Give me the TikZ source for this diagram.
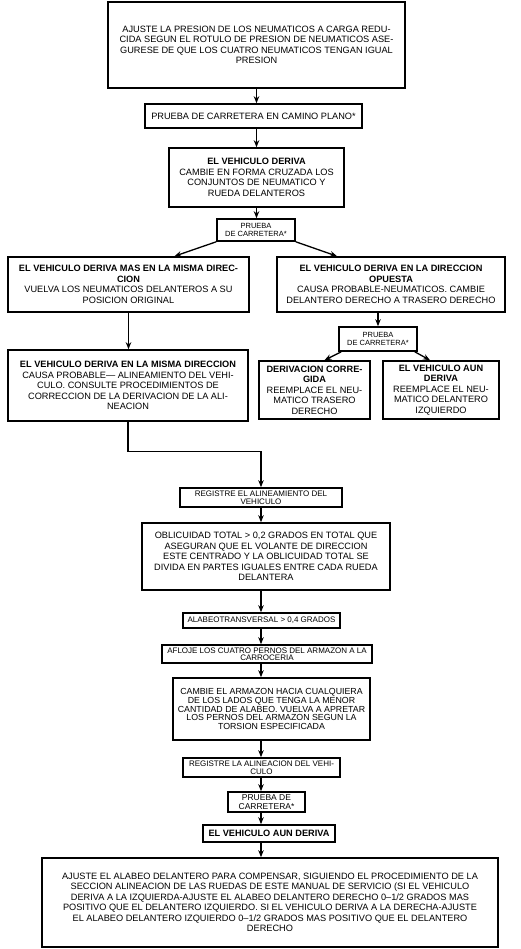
\documentclass[tikz,border=0pt]{standalone}
\usepackage{fontspec}
\setmainfont{Liberation Sans}
\usetikzlibrary{arrows.meta,calc}
\begin{document}
\begin{tikzpicture}[x=1pt,y=-1pt,
  box/.style={draw,line width=1.6pt,inner sep=0pt,align=center,font=\fontsize{9.2}{10.5}\selectfont},
  smallbox/.style={box,font=\fontsize{7.5}{8}\selectfont},
  tinybox/.style={box,font=\fontsize{8}{7.5}\selectfont},
  arr/.style={line width=1.3pt,-{Stealth[length=7pt,width=5.5pt]}}]
\useasboundingbox (0,0) rectangle (520,949);

\node[box,minimum width=297pt,minimum height=86pt] (top) at (256.5,45)
 {AJUSTE LA PRESION DE LOS NEUMATICOS A CARGA REDU-\\CIDA SEGUN EL ROTULO DE PRESION DE NEUMATICOS ASE-\\GURESE DE QUE LOS CUATRO NEUMATICOS TENGAN IGUAL\\PRESION};
\node[box,minimum width=217pt,minimum height=24pt] (plano) at (253.5,116)
 {PRUEBA DE CARRETERA EN CAMINO PLANO*};
\node[box,minimum width=175pt,minimum height=59pt] (deriva) at (256.5,177.5)
 {\textbf{EL VEHICULO DERIVA}\\CAMBIE EN FORMA CRUZADA LOS\\CONJUNTOS DE NEUMATICO Y\\RUEDA DELANTEROS};
\node[smallbox,minimum width=78pt,minimum height=22pt] (prueba1) at (256,230)
 {PRUEBA\\DE CARRETERA*};
\node[box,minimum width=241pt,minimum height=55pt] (mas) at (128.5,284.5)
 {\textbf{EL VEHICULO DERIVA MAS EN LA MISMA DIREC-}\\\textbf{CION}\\VUELVA LOS NEUMATICOS DELANTEROS A SU\\POSICION ORIGINAL};
\node[box,minimum width=228pt,minimum height=55pt] (opuesta) at (391,284.5)
 {\textbf{EL VEHICULO DERIVA EN LA DIRECCION}\\\textbf{OPUESTA}\\CAUSA PROBABLE-NEUMATICOS. CAMBIE\\DELANTERO DERECHO A TRASERO DERECHO};
\node[smallbox,minimum width=78pt,minimum height=24pt] (prueba2) at (378,339)
 {PRUEBA\\DE CARRETERA*};
\node[box,minimum width=111pt,minimum height=58pt] (corregida) at (314.5,390)
 {\textbf{DERIVACION CORRE-}\\\textbf{GIDA}\\REEMPLACE EL NEU-\\MATICO TRASERO\\DERECHO};
\node[box,minimum width=116pt,minimum height=58pt] (aun1) at (441,390)
 {\textbf{EL VEHICULO AUN}\\\textbf{DERIVA}\\REEMPLACE EL NEU-\\MATICO DELANTERO\\IZQUIERDO};
\node[box,minimum width=240pt,minimum height=71pt] (misma) at (128,385.5)
 {\textbf{EL VEHICULO DERIVA EN LA MISMA DIRECCION}\\CAUSA PROBABLE--- ALINEAMIENTO DEL VEHI-\\CULO. CONSULTE PROCEDIMIENTOS DE\\CORRECCION DE LA DERIVACION DE LA ALI-\\NEACION};
\node[tinybox,minimum width=162pt,minimum height=19pt] (registre1) at (261,497.5)
 {REGISTRE EL ALINEAMIENTO DEL\\VEHICULO};
\node[box,minimum width=248pt,minimum height=67pt] (oblic) at (266,556.5)
 {OBLICUIDAD TOTAL > 0,2 GRADOS EN TOTAL QUE\\ASEGURAN QUE EL VOLANTE DE DIRECCION\\ESTE CENTRADO Y LA OBLICUIDAD TOTAL SE\\DIVIDA EN PARTES IGUALES ENTRE CADA RUEDA\\DELANTERA};
\node[tinybox,minimum width=157pt,minimum height=15pt] (alabeo) at (261.5,620.5)
 {ALABEOTRANSVERSAL > 0,4 GRADOS};
\node[tinybox,minimum width=210pt,minimum height=18pt] (afloje) at (267,654)
 {AFLOJE LOS CUATRO PERNOS DEL ARMAZON A LA\\CARROCERIA};
\node[box,font=\fontsize{8.8}{8.8}\selectfont,minimum width=197pt,minimum height=62pt] (cambie) at (271.5,709)
 {CAMBIE EL ARMAZON HACIA CUALQUIERA\\DE LOS LADOS QUE TENGA LA MENOR\\CANTIDAD DE ALABEO. VUELVA A APRETAR\\LOS PERNOS DEL ARMAZON SEGUN LA\\TORSION ESPECIFICADA};
\node[tinybox,minimum width=157pt,minimum height=19pt] (registre2) at (261.5,767.5)
 {REGISTRE LA ALINEACION DEL VEHI-\\CULO};
\node[box,font=\fontsize{8.5}{8.5}\selectfont,minimum width=77pt,minimum height=20pt] (prueba3) at (266.5,802)
 {PRUEBA DE\\CARRETERA*};
\node[box,minimum width=132pt,minimum height=17pt] (aun2) at (269,833.5)
 {\textbf{EL VEHICULO AUN DERIVA}};
\node[box,minimum width=456pt,minimum height=89pt] (final) at (270,902.5)
 {AJUSTE EL ALABEO DELANTERO PARA COMPENSAR, SIGUIENDO EL PROCEDIMIENTO DE LA\\SECCION ALINEACION DE LAS RUEDAS DE ESTE MANUAL DE SERVICIO (SI EL VEHICULO\\DERIVA A LA IZQUIERDA-AJUSTE EL ALABEO DELANTERO DERECHO 0--1/2 GRADOS MAS\\POSITIVO QUE EL DELANTERO IZQUIERDO. SI EL VEHICULO DERIVA A LA DERECHA-AJUSTE\\EL ALABEO DELANTERO IZQUIERDO 0--1/2 GRADOS MAS POSITIVO QUE EL DELANTERO\\DERECHO};

\coordinate (col) at (261,0);
\draw[arr] (top.south) -- (top.south |- plano.north);
\draw[arr] (top.south |- plano.south) -- (top.south |- deriva.north);
\draw[arr] (deriva.south) -- (deriva.south |- prueba1.north);
\draw[arr] (prueba1.south west) -- ([xshift=46pt]mas.north);
\draw[arr] (prueba1.south east) -- ([xshift=-54pt]opuesta.north);
\draw[arr] (mas.south) -- (mas.south |- misma.north);
\draw[arr] (opuesta.south -| prueba2.north) -- (prueba2.north);
\draw[arr] ([xshift=3pt]prueba2.south west) -- ([xshift=10pt]corregida.north);
\draw[arr] ([xshift=-3pt]prueba2.south east) -- ([xshift=-11pt]aun1.north);
\draw[arr] (misma.south) -- ++(0,30) -| (registre1.north);
\draw[arr] (col |- registre1.south) -- (col |- oblic.north);
\draw[arr] (col |- oblic.south) -- (col |- alabeo.north);
\draw[arr] (col |- alabeo.south) -- (col |- afloje.north);
\draw[arr] (col |- afloje.south) -- (col |- cambie.north);
\draw[arr] (col |- cambie.south) -- (col |- registre2.north);
\draw[arr] (col |- registre2.south) -- (col |- prueba3.north);
\draw[arr] (col |- prueba3.south) -- (col |- aun2.north);
\draw[arr] (col |- aun2.south) -- (col |- final.north);
\end{tikzpicture}
\end{document}
